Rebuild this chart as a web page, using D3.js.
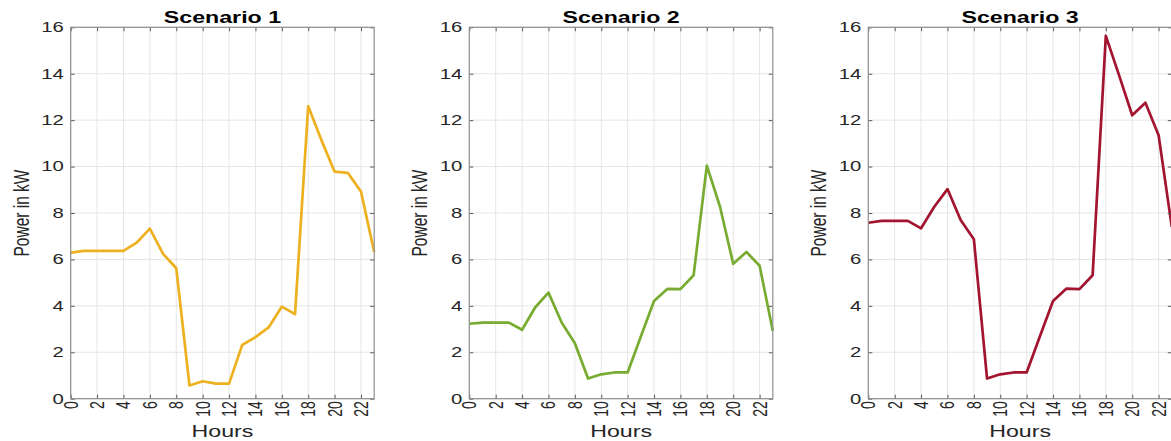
<!DOCTYPE html>
<html><head><meta charset="utf-8">
<script src="https://cdn.jsdelivr.net/npm/d3@7"></script>
<style>html,body{margin:0;padding:0;background:#fff;overflow:hidden}</style>
</head><body><svg id="c" width="1171" height="441"></svg>
<script>
const hours = [0,1,2,3,4,5,6,7,8,9,10,11,12,13,14,15,16,17,18,19,20,21,22,23];
const scenario1 = [6.29,6.37,6.37,6.37,6.37,6.72,7.33,6.24,5.62,0.57,0.75,0.65,0.65,2.32,2.65,3.07,3.97,3.64,12.6,11.14,9.78,9.73,8.92,6.32];
const scenario2 = [3.23,3.28,3.28,3.28,2.97,3.94,4.57,3.28,2.39,0.87,1.05,1.13,1.13,2.68,4.21,4.73,4.72,5.32,10.04,8.27,5.81,6.32,5.73,2.92];
const scenario3 = [7.58,7.66,7.66,7.66,7.34,8.27,9.03,7.70,6.87,0.87,1.05,1.13,1.13,2.68,4.21,4.74,4.72,5.32,15.63,13.94,12.21,12.75,11.35,7.4];
const titles = ["Scenario 1","Scenario 2","Scenario 3"];
const xTicks = [0,2,4,6,8,10,12,14,16,18,20,22];
const yTicks = [0,2,4,6,8,10,12,14,16];
const xLabel = "Hours";
const yLabel = "Power in kW";
const colors = ["#EDB120","#77AC30","#A2142F"];

const series = [scenario1, scenario2, scenario3];
const SX = 1.45;
const lefts = [70.7, 469.3, 868.3];
const W = 303.5, TOP = 27.3, BOT = 398.7;
const svg = d3.select("#c");
const FONT = "'Liberation Sans', Arial, Helvetica, sans-serif";

series.forEach((vals, i) => {
  const L = lefts[i];
  const x = d3.scaleLinear().domain([0,23]).range([L, L+W]);
  const y = d3.scaleLinear().domain([0,16]).range([BOT, TOP]);
  const g = svg.append("g");
  const cx = L + W/2;

  // grid
  g.append("g").selectAll("line").data(xTicks).join("line")
    .attr("x1", d=>x(d)).attr("x2", d=>x(d)).attr("y1", TOP).attr("y2", BOT)
    .attr("stroke", "#e6e6e6").attr("stroke-width", 1);
  g.append("g").selectAll("line").data(yTicks).join("line")
    .attr("x1", L).attr("x2", L+W).attr("y1", d=>y(d)).attr("y2", d=>y(d))
    .attr("stroke", "#e6e6e6").attr("stroke-width", 1);

  // line
  const line = d3.line().x((d,j)=>x(hours[j])).y(d=>y(d));
  g.append("path").datum(vals).attr("d", line)
    .attr("fill","none").attr("stroke", colors[i]).attr("stroke-width", 2.7)
    .attr("stroke-linejoin","round");

  // ticks (inward)
  const tk = 4;
  const axes = [
    [d3.axisBottom(x).tickValues(xTicks), `translate(0,${BOT})`],
    [d3.axisTop(x).tickValues(xTicks), `translate(0,${TOP})`],
    [d3.axisLeft(y).tickValues(yTicks), `translate(${L},0)`],
    [d3.axisRight(y).tickValues(yTicks), `translate(${L+W},0)`]
  ];
  axes.forEach(([ax, tr]) => {
    const a = g.append("g").attr("transform", tr)
      .call(ax.tickSize(-tk).tickFormat(""));
    a.select(".domain").remove();
    a.selectAll("line").attr("stroke", "#5a5a5a").attr("stroke-width", 1);
    a.selectAll("text").remove();
  });

  // box
  g.append("rect").attr("x", L).attr("y", TOP).attr("width", W).attr("height", BOT-TOP)
    .attr("fill","none").attr("stroke","#8f8f8f").attr("stroke-width",1.2);

  // y tick labels
  g.append("g").selectAll("text").data(yTicks).join("text")
    .attr("transform", d=>`translate(${L-7},${y(d)}) scale(${SX},1)`)
    .attr("text-anchor","end").attr("dominant-baseline","central")
    .attr("font-family", FONT).attr("font-size", 14).attr("fill","#262626")
    .text(d=>d);

  // x tick labels (rotated)
  g.append("g").selectAll("text").data(xTicks).join("text")
    .attr("transform", d=>`translate(${x(d)},${BOT+2.5}) scale(${SX},1) rotate(-90)`)
    .attr("text-anchor","end").attr("dominant-baseline","central")
    .attr("font-family", FONT).attr("font-size", 14).attr("fill","#262626")
    .text(d=>d);

  // axis labels
  g.append("text")
    .attr("transform", `translate(${cx},437) scale(${SX},1)`)
    .attr("text-anchor","middle")
    .attr("font-family", FONT).attr("font-size", 16).attr("fill","#262626")
    .text(xLabel);
  g.append("text")
    .attr("transform", `translate(${L-49.5},${(TOP+BOT)/2}) scale(${SX},1) rotate(-90)`)
    .attr("text-anchor","middle").attr("dominant-baseline","central")
    .attr("font-family", FONT).attr("font-size", 15.5).attr("fill","#262626")
    .text(yLabel);

  // title
  g.append("text")
    .attr("transform", `translate(${cx},22.5) scale(${SX},1)`)
    .attr("text-anchor","middle")
    .attr("font-family", FONT).attr("font-size", 16).attr("font-weight","bold").attr("fill","#000")
    .text(titles[i]);
});
</script>
</body></html>
